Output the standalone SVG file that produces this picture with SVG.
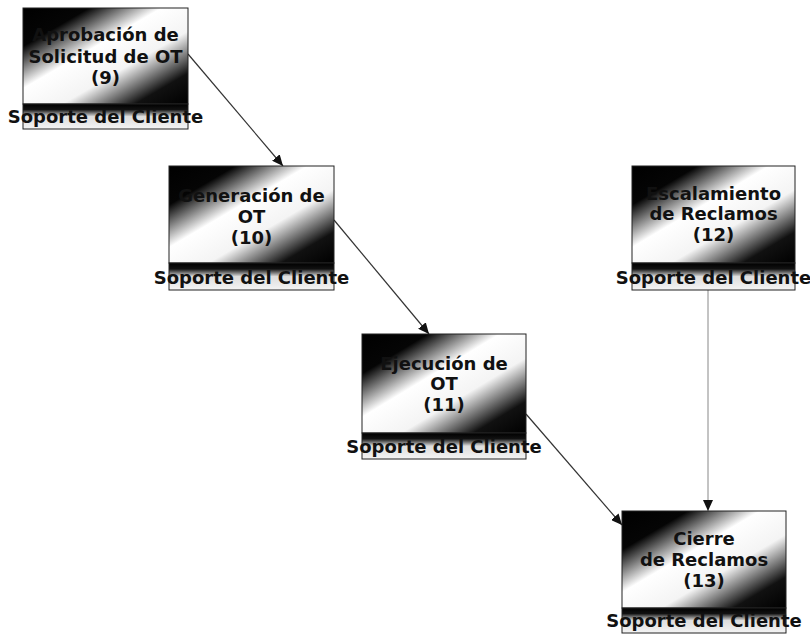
<svg xmlns="http://www.w3.org/2000/svg" width="810" height="641" viewBox="0 0 810 641">
<style>
.main{stroke:#222;stroke-width:1;fill:url(#gMain)}
.strip{stroke:#222;stroke-width:1;fill:url(#gStrip)}
.t{font-family:"DejaVu Sans",Verdana,sans-serif;font-weight:bold;font-size:18px;fill:#111;text-anchor:middle}
.c{fill:none;stroke:#333;stroke-width:1.2}
.v{fill:none;stroke:#888;stroke-width:1}
</style>
<defs>
<linearGradient id="gMain" x1="0" y1="0" x2="1" y2="1">
<stop offset="0" stop-color="#000"/>
<stop offset="0.2" stop-color="#050505"/>
<stop offset="0.42" stop-color="#fff"/>
<stop offset="0.62" stop-color="#f4f4f4"/>
<stop offset="0.84" stop-color="#111"/>
<stop offset="1" stop-color="#000"/>
</linearGradient>
<linearGradient id="gStrip" x1="0" y1="0" x2="0" y2="1">
<stop offset="0" stop-color="#000"/>
<stop offset="0.22" stop-color="#111"/>
<stop offset="0.5" stop-color="#ddd"/>
<stop offset="1" stop-color="#f4f4f4"/>
</linearGradient>
<marker id="arr" markerUnits="userSpaceOnUse" markerWidth="12" markerHeight="10" refX="11" refY="5" orient="auto">
<path d="M0,0 L11,5 L0,10 Z" fill="#111"/>
</marker>
</defs>
<rect width="810" height="641" fill="#fff"/>
<g id="connectors">
<line class="c" x1="188" y1="54" x2="283" y2="166" marker-end="url(#arr)"/>
<line class="c" x1="334" y1="220" x2="429" y2="334" marker-end="url(#arr)"/>
<line class="c" x1="526" y1="414" x2="622" y2="525" marker-end="url(#arr)"/>
<line class="v" x1="708" y1="290" x2="708" y2="511" marker-end="url(#arr)"/>
</g>
<g id="n9">
<rect class="main" x="23" y="8" width="165" height="96"/>
<rect class="strip" x="23" y="104" width="165" height="25"/>
<text class="t" x="105.5" y="41">Aprobación de</text>
<text class="t" x="105.5" y="63">Solicitud de OT</text>
<text class="t" x="105.5" y="84">(9)</text>
<text class="t" x="105.5" y="123">Soporte del Cliente</text>
</g>
<g id="n10">
<rect class="main" x="169" y="166" width="165" height="97"/>
<rect class="strip" x="169" y="263" width="165" height="27"/>
<text class="t" x="251.5" y="202">Generación de</text>
<text class="t" x="251.5" y="223">OT</text>
<text class="t" x="251.5" y="244">(10)</text>
<text class="t" x="251.5" y="284">Soporte del Cliente</text>
</g>
<g id="n12">
<rect class="main" x="632" y="166" width="163" height="97"/>
<rect class="strip" x="632" y="263" width="163" height="27"/>
<text class="t" x="713.5" y="200">Escalamiento</text>
<text class="t" x="713.5" y="220">de Reclamos</text>
<text class="t" x="713.5" y="241">(12)</text>
<text class="t" x="713.5" y="284">Soporte del Cliente</text>
</g>
<g id="n11">
<rect class="main" x="362" y="334" width="164" height="99"/>
<rect class="strip" x="362" y="433" width="164" height="26"/>
<text class="t" x="444" y="370">Ejecución de</text>
<text class="t" x="444" y="390">OT</text>
<text class="t" x="444" y="411">(11)</text>
<text class="t" x="444" y="453">Soporte del Cliente</text>
</g>
<g id="n13">
<rect class="main" x="622" y="511" width="164" height="97"/>
<rect class="strip" x="622" y="608" width="164" height="25"/>
<text class="t" x="704" y="545">Cierre</text>
<text class="t" x="704" y="566">de Reclamos</text>
<text class="t" x="704" y="587">(13)</text>
<text class="t" x="704" y="627">Soporte del Cliente</text>
</g>
</svg>
